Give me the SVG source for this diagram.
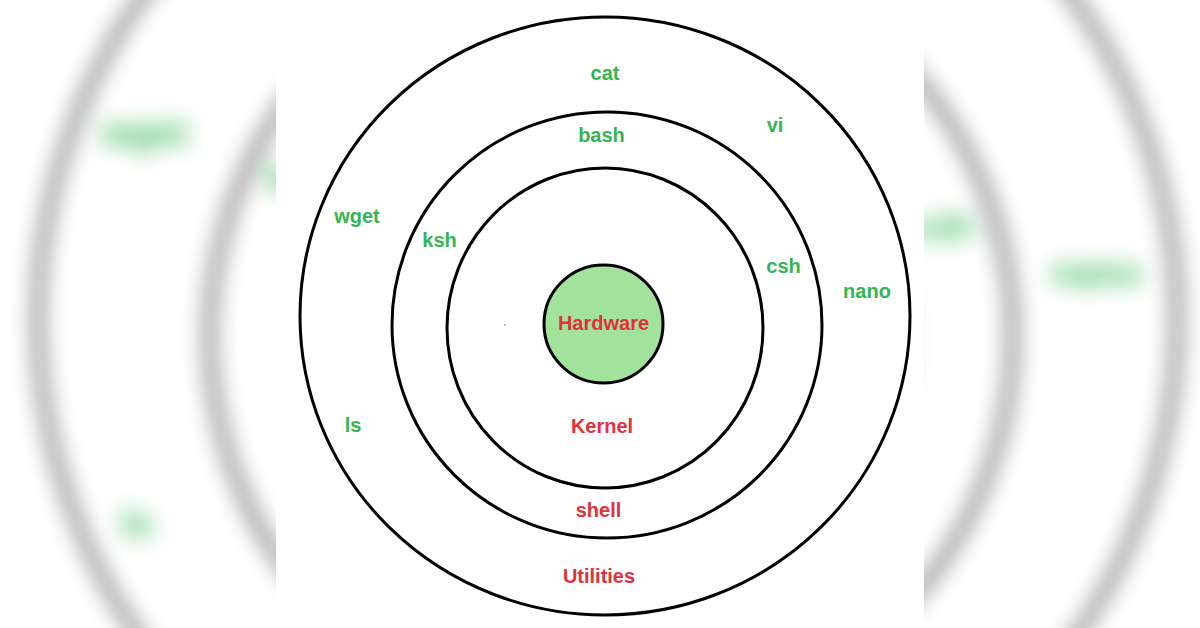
<svg xmlns="http://www.w3.org/2000/svg" xmlns:xlink="http://www.w3.org/1999/xlink" width="1200" height="628" viewBox="0 0 1200 628">
  <style>
    .ring { fill: none; stroke: #000; stroke-width: 3; }
    .core { fill: #a2e39c; stroke: #000; stroke-width: 3; }
    .lbl { font-family: "Liberation Sans", Arial, sans-serif; font-weight: bold; font-size: 20px; text-anchor: middle; }
    .g { fill: #35b552; }
    .r { fill: #e0313c; }
  </style>
  <defs>
    <filter id="blur" x="-20%" y="-20%" width="140%" height="140%" color-interpolation-filters="sRGB">
      <feGaussianBlur stdDeviation="6"/>
    </filter>
  </defs>
  <rect width="1200" height="628" fill="#ffffff"/>
  <!-- blurred, enlarged backdrop -->
  <use xlink:href="#diagram" href="#diagram" transform="translate(-522 -271) scale(1.867)" filter="url(#blur)"/>
  <!-- white panel -->
  <rect x="276" y="0" width="648" height="628" fill="#ffffff"/>
  <g id="diagram">
    <g id="utilities">
      <ellipse class="ring" cx="605" cy="316" rx="305" ry="299"/>
      <text class="lbl r" x="599" y="583">Utilities</text>
      <text class="lbl g" x="605" y="80">cat</text>
      <text class="lbl g" x="775" y="132">vi</text>
      <text class="lbl g" x="357" y="223">wget</text>
      <text class="lbl g" x="867" y="298">nano</text>
      <text class="lbl g" x="353" y="432">ls</text>
    </g>
    <g id="shell">
      <ellipse class="ring" cx="607" cy="325" rx="215" ry="213"/>
      <text class="lbl r" x="598.5" y="517">shell</text>
      <text class="lbl g" x="601.5" y="142">bash</text>
      <text class="lbl g" x="439.5" y="247">ksh</text>
      <text class="lbl g" x="783.5" y="273">csh</text>
    </g>
    <g id="kernel">
      <ellipse class="ring" cx="605" cy="328" rx="158" ry="160"/>
      <text class="lbl r" x="602" y="433">Kernel</text>
      <circle cx="505" cy="325" r="0.9" fill="#9a9a9a"/>
    </g>
    <g id="hardware">
      <ellipse class="core" cx="603.5" cy="324" rx="59.5" ry="59"/>
      <text class="lbl r" x="603.5" y="330">Hardware</text>
    </g>
  </g>
  <g id="connectors"/>
</svg>
